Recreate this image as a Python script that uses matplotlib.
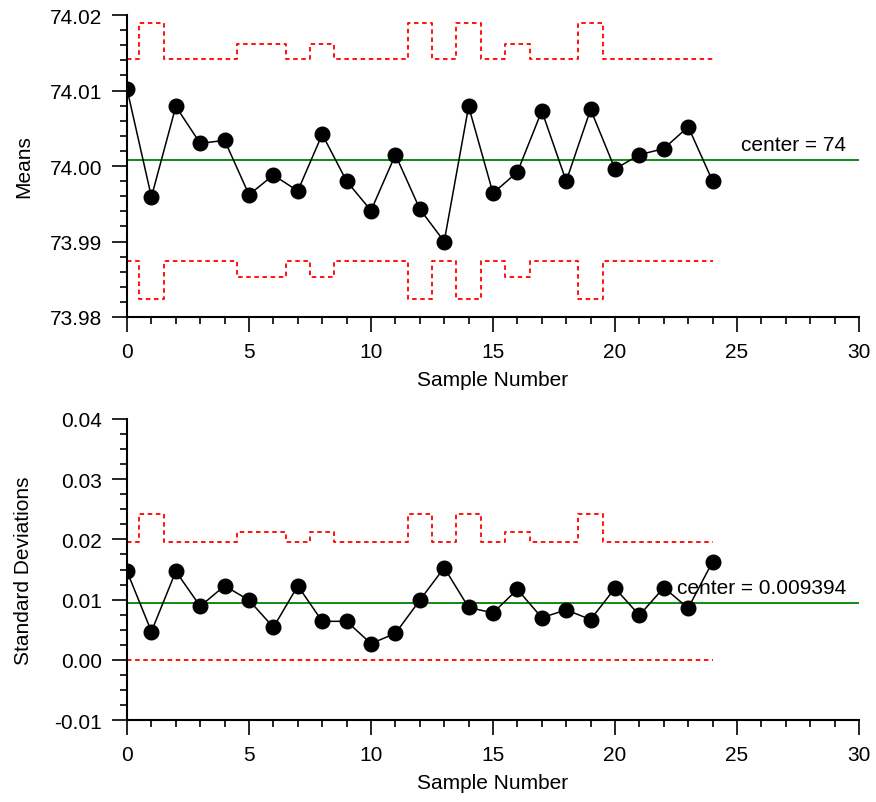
import matplotlib
matplotlib.use("Agg")
import matplotlib.pyplot as plt
from matplotlib.ticker import MultipleLocator, FormatStrFormatter

plt.rcParams['font.family'] = ['Liberation Sans', 'DejaVu Sans']
plt.rcParams['axes.unicode_minus'] = False

# sample means and standard deviations, one per sample
sample_no = list(range(25))
sample_size = [5, 3, 5, 5, 5, 4, 4, 5, 4, 5, 5, 5, 3, 5, 3, 5, 4, 5, 5, 3, 5, 5, 5, 5, 5]
means = [74.0102, 73.9959, 74.0079, 74.0030, 74.0034, 73.9962, 73.9988, 73.9967,
         74.0042, 73.9980, 73.9941, 74.0015, 73.9943, 73.9900, 74.0079, 73.9964,
         73.9992, 74.0073, 73.9980, 74.0075, 73.9996, 74.0015, 74.0023, 74.0052,
         73.9980]
stds = [0.0147, 0.0047, 0.0147, 0.0089, 0.0123, 0.0099, 0.0054, 0.0123, 0.0064,
        0.0064, 0.0027, 0.0044, 0.0099, 0.0153, 0.0087, 0.0078, 0.0117, 0.0070,
        0.0083, 0.0067, 0.0119, 0.0074, 0.0120, 0.0086, 0.0163]

# control limits by sample size
mean_center = 74.0008
mean_ucl = {3: 74.0190, 4: 74.0162, 5: 74.0142}
mean_lcl = {3: 73.9824, 4: 73.9853, 5: 73.9874}
std_center = 0.009394
std_ucl = {3: 0.0243, 4: 0.0213, 5: 0.0196}
std_lcl = {3: 0.0, 4: 0.0, 5: 0.0}

RED = '#ff0000'
GREEN = '#008000'
FS = 15


def style_axis(ax, ylo, yhi, ymajor, yminor):
    ax.set_xlim(0, 30)
    ax.set_ylim(ylo, yhi)
    for s in ['top', 'right']:
        ax.spines[s].set_visible(False)
    for s in ['left', 'bottom']:
        ax.spines[s].set_linewidth(1.5)
    ax.xaxis.set_major_locator(MultipleLocator(5))
    ax.xaxis.set_minor_locator(MultipleLocator(1))
    ax.yaxis.set_major_locator(MultipleLocator(ymajor))
    ax.yaxis.set_minor_locator(MultipleLocator(yminor))
    ax.yaxis.set_major_formatter(FormatStrFormatter('%.2f'))
    ax.tick_params(which='major', direction='out', length=11, width=1.2,
                   labelsize=FS, pad=7)
    ax.tick_params(which='minor', direction='out', length=5, width=1.2)
    ax.set_xlabel('Sample Number', fontsize=FS)
    ax.xaxis.set_label_coords(0.5, -0.175)


def draw_chart(ax, values, center, ucl, lcl, label):
    upper = [ucl[n] for n in sample_size]
    lower = [lcl[n] for n in sample_size]
    ax.plot(sample_no, upper, drawstyle='steps-mid', color=RED, lw=1.3,
            linestyle=(0, (2.5, 2)))
    ax.plot(sample_no, lower, drawstyle='steps-mid', color=RED, lw=1.3,
            linestyle=(0, (2.5, 2)))
    ax.axhline(center, color=GREEN, lw=1.3)
    ax.plot(sample_no, values, color='black', lw=1.1, marker='o',
            markersize=10.5, markerfacecolor='black', markeredgecolor='black')
    ax.annotate(label, xy=(1, center), xycoords=('axes fraction', 'data'),
                xytext=(-13, 10), textcoords='offset pixels',
                ha='right', va='baseline', fontsize=FS)


fig = plt.figure(figsize=(8.76, 8.03), dpi=100)
ax1 = fig.add_axes([0.145, 0.604, 0.8356, 0.376])
ax2 = fig.add_axes([0.145, 0.102, 0.8356, 0.375])

draw_chart(ax1, means, mean_center, mean_ucl, mean_lcl, 'center = 74')
style_axis(ax1, 73.98, 74.02, 0.01, 0.002)
ax1.set_ylabel('Means', fontsize=FS)
ax1.yaxis.set_label_coords(-0.128, 0.5)

draw_chart(ax2, stds, std_center, std_ucl, std_lcl, 'center = 0.009394')
style_axis(ax2, -0.01, 0.04, 0.01, 0.0025)
ax2.set_ylabel('Standard Deviations', fontsize=FS)
ax2.yaxis.set_label_coords(-0.128, 0.5)

fig.savefig('out.png', dpi=100)
